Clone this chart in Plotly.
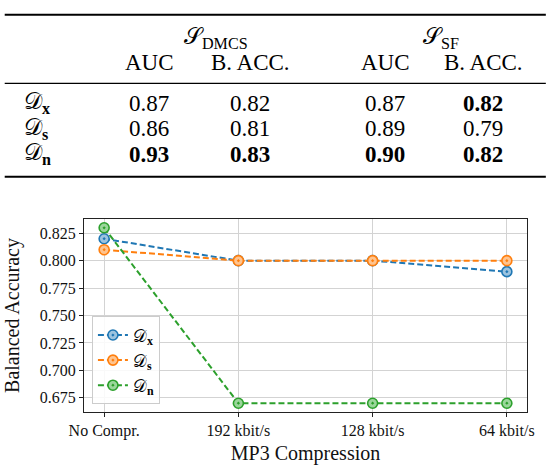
import plotly.graph_objects as go

# ---- data -------------------------------------------------------------
compression = ['No Compr.', '192 kbit/s', '128 kbit/s', '64 kbit/s']
acc_x = [0.82, 0.80, 0.80, 0.79]
acc_s = [0.81, 0.80, 0.80, 0.80]
acc_n = [0.83, 0.67, 0.67, 0.67]

row_labels = ['𝒟<sub><b>x</b></sub>', '𝒟<sub><b>s</b></sub>', '𝒟<sub><b>n</b></sub>']
group_labels = ['𝒮<sub>DMCS</sub>', '𝒮<sub>SF</sub>']
col_labels = ['AUC', 'B. ACC.', 'AUC', 'B. ACC.']
table_vals = [
    ['0.87', '0.82', '0.87', '0.82'],
    ['0.86', '0.81', '0.89', '0.79'],
    ['0.93', '0.83', '0.90', '0.82'],
]
table_bold = [
    [False, False, False, True],
    [False, False, False, False],
    [True, True, True, True],
]

yticks = [0.675, 0.700, 0.725, 0.750, 0.775, 0.800, 0.825]

# ---- layout helpers (pixel -> paper) ---------------------------------
W, H = 546, 472
L, R, T, B = 80, 19, 219, 48
pw = W - L - R
ph = H - T - B


def px(x):
    return (x - L) / pw


def py(y):
    return (H - B - y) / ph


FONT = '"Liberation Serif", "Times New Roman", Times, serif'
blue, orange, green = '#1f77b4', '#ff7f0e', '#2ca02c'
light = {blue: '#9cc3df', orange: '#ffc48f', green: '#9bd69b'}

fig = go.Figure()

for name, vals, col in zip(row_labels, [acc_x, acc_s, acc_n], [blue, orange, green]):
    fig.add_trace(go.Scatter(
        x=compression, y=vals, name=name, mode='lines+markers',
        line=dict(color=col, width=2, dash='6px,3px'),
        marker=dict(symbol='circle-dot', size=10, color=light[col],
                    line=dict(color=col, width=1.6)),
    ))

axis_common = dict(
    showline=True, mirror=True, linecolor='#222222', linewidth=1,
    ticks='outside', ticklen=4, tickcolor='#222222', tickwidth=1,
    showgrid=True, gridcolor='#d3d3d3', gridwidth=1, zeroline=False,
    tickfont=dict(family=FONT, size=16, color='#111111'),
    title_font=dict(family=FONT, size=20, color='#111111'),
)

fig.update_xaxes(range=[-0.15, 3.15], title_text='MP3 Compression',
                 title_standoff=6, **axis_common)
fig.update_yaxes(range=[0.662, 0.838], tickvals=yticks, tickformat='.3f',
                 title_text='Balanced Accuracy', title_standoff=14,
                 **axis_common)

# ---- table drawn above the plot ----------------------------------------
annots = []
col_x = [146, 248, 384, 483]
group_x = [213, 440]
row_y = [96, 123, 150]
tf = dict(family=FONT, size=23, color='black')

for gx, gl in zip(group_x, group_labels):
    annots.append(dict(x=px(gx), y=py(27), text=gl, font=tf))
for cx, cl in zip(col_x, col_labels):
    annots.append(dict(x=px(cx), y=py(53), text=cl, font=tf))
for ry, rl, vals, bolds in zip(row_y, row_labels, table_vals, table_bold):
    annots.append(dict(x=px(17), y=py(ry), text=rl, font=tf, xanchor='left'))
    for cx, v, b in zip(col_x, vals, bolds):
        annots.append(dict(x=px(cx), y=py(ry), text='<b>%s</b>' % v if b else v,
                           font=tf))

for a in annots:
    a.update(xref='paper', yref='paper', showarrow=False)
    a.setdefault('xanchor', 'center')
    a.setdefault('yanchor', 'middle')

shapes = []
for ry, lw in [(2, 2), (75, 1.2), (174, 2)]:
    shapes.append(dict(type='line', xref='paper', yref='paper',
                       x0=px(0), x1=px(W), y0=py(ry), y1=py(ry),
                       line=dict(color='black', width=lw)))

fig.update_layout(
    width=W, height=H,
    margin=dict(l=L, r=R, t=T, b=B),
    paper_bgcolor='white', plot_bgcolor='white',
    annotations=annots, shapes=shapes,
    legend=dict(x=px(88), y=py(416), xanchor='left', yanchor='bottom',
                bgcolor='rgba(255,255,255,0.85)', bordercolor='#cccccc',
                borderwidth=1, tracegroupgap=0,
                font=dict(family=FONT, size=17, color='black')),
)

# page body has an 8px default margin; drop it so the figure sits at 0,0
fig.write_html('out.html', config={'displayModeBar': False},
               post_script="document.body.style.margin='0';")
